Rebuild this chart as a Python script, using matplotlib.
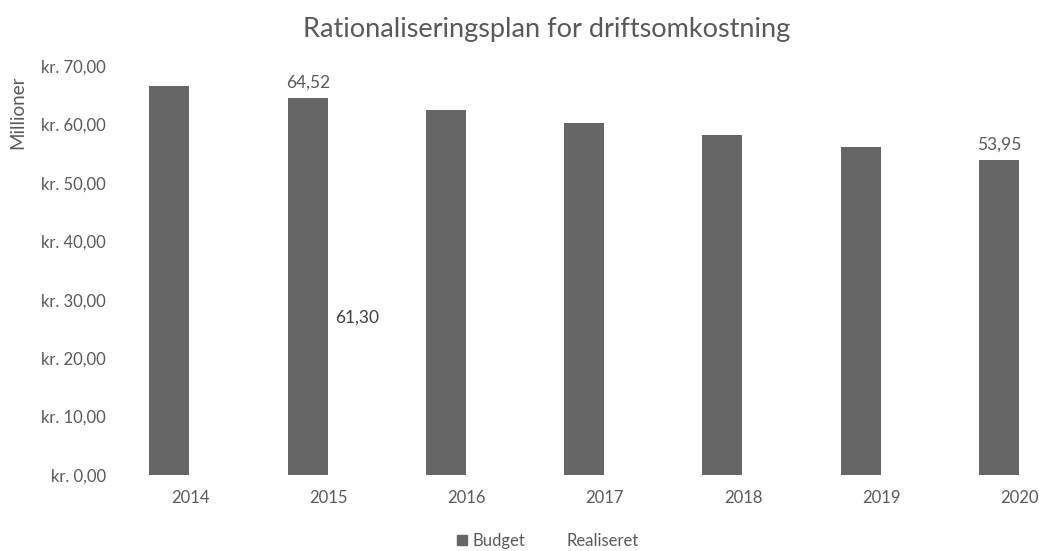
import numpy as np
import matplotlib
matplotlib.use('Agg')
import matplotlib.pyplot as plt
import matplotlib.patches as mpatches

plt.rcParams['font.family'] = ['Lato', 'DejaVu Sans']

years = ['2014', '2015', '2016', '2017', '2018', '2019', '2020']
budget = [66.63, 64.52, 62.41, 60.29, 58.18, 56.07, 53.95]
realiseret = [0, 61.30, 0, 0, 0, 0, 0]
budget_labels = {1: '64,52', 6: '53,95'}
realiseret_labels = {1: '61,30'}

grey = '#595959'
bar_grey = '#666666'

fig = plt.figure(figsize=(10.39, 5.51), dpi=100)
ax = fig.add_axes([121 / 1039, 1 - 475 / 551, 1 - 121 / 1039, 409 / 551])

x = np.arange(len(years))
w = 0.29
ax.bar(x - w / 2 - 0.005, budget, w, color=bar_grey, label='Budget')
ax.bar(x + w / 2 + 0.005, realiseret, w, color='white', label='Realiseret')

for i, s in budget_labels.items():
    ax.text(x[i] - w / 2, budget[i] + 1.2, s, ha='center', va='bottom',
            fontsize=12.5, color=grey)
for i, s in realiseret_labels.items():
    ax.text(x[i] + w / 2 + 0.06, realiseret[i] * 0.44, s, ha='center', va='center',
            fontsize=12.5, color='#404040')

ax.set_xlim(-0.5, 6.14)
ax.set_ylim(0, 70)
ax.set_yticks(np.arange(0, 71, 10))
ax.set_yticklabels(['kr. %d,00' % v for v in range(0, 71, 10)])
ax.set_xticks(x)
ax.set_xticklabels(years)
ax.tick_params(axis='both', length=0, labelsize=12, colors=grey)
ax.tick_params(axis='x', pad=11)
ax.tick_params(axis='y', pad=11)
for sp in ax.spines.values():
    sp.set_visible(False)

fig.text(547 / 1039, 1 - 30 / 551, 'Rationaliseringsplan for driftsomkostning',
         ha='center', va='center', fontsize=19.5, color=grey)
fig.text(18 / 1039, 1 - 112 / 551, 'Millioner', rotation=90, ha='center',
         va='center', fontsize=13.5, color=grey)

h1 = mpatches.Patch(color=bar_grey, label='Budget')
h2 = mpatches.Patch(color='white', label='Realiseret')
fig.legend(handles=[h1, h2], loc='center', bbox_to_anchor=(548 / 1039, 1 - 541 / 551),
           ncol=2, frameon=False, fontsize=12, labelcolor=grey,
           handlelength=0.6, handleheight=0.6, handletextpad=0.3, columnspacing=1.6)

fig.savefig('out.png', dpi=100)
